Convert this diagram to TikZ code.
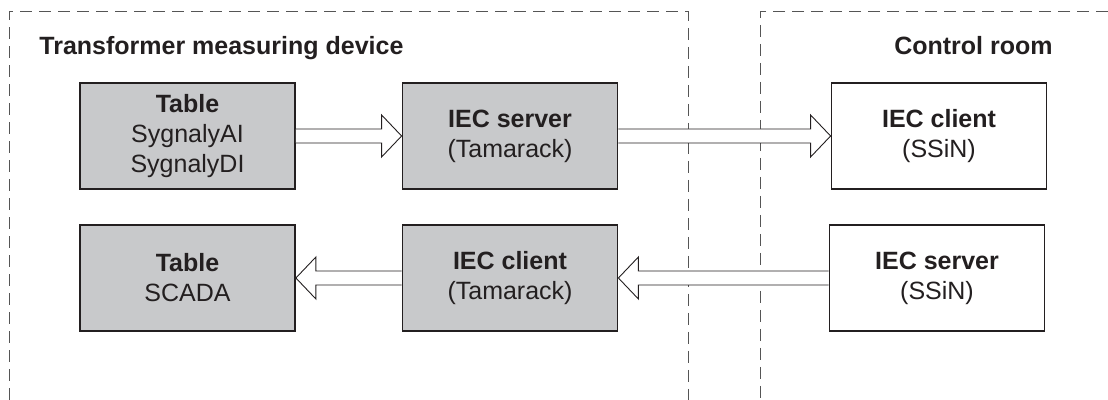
\documentclass[tikz,border=0pt]{standalone}
\usepackage{fontspec}
\setmainfont{Liberation Sans}
\usetikzlibrary{calc}
\definecolor{inkgray}{HTML}{231F20}
\definecolor{boxgray}{HTML}{C8C9CB}
\definecolor{dashgray}{HTML}{555555}
\newcommand{\flowarrow}[2]{%
  \draw[flowarrow] ($(#1)+(0,7)$) -- ($(#2)!10pt!(#1)+(0,7)$) -- ($(#2)!10pt!(#1)+(0,21)$)
    -- (#2) -- ($(#2)!10pt!(#1)+(0,-21)$) -- ($(#2)!10pt!(#1)+(0,-7)$) -- ($(#1)+(0,-7)$);}
\begin{document}
\begin{tikzpicture}[x=0.5pt,y=-0.5pt]
\tikzset{
  unitbox/.style={draw=inkgray,line width=0.9pt,minimum width=107.5pt,minimum height=53pt,
    align=center,text=inkgray,font=\fontsize{12.5}{15}\selectfont,inner sep=0pt},
  devbox/.style={unitbox,fill=boxgray},
  roombox/.style={unitbox,fill=white},
  zone/.style={draw=dashgray,line width=0.5pt,dash pattern=on 6pt off 3.5pt},
  zonetitle/.style={text=inkgray,font=\fontsize{12.5}{15}\selectfont\bfseries,inner sep=0pt},
  flowarrow/.style={draw=inkgray,line width=0.45pt,fill=white,line join=miter}
}
\useasboundingbox (0,0) rectangle (1108,400);
% zones
\draw[zone] (9,400) -- (9,12) -- (688,12) -- (688,400);
\draw[zone] (1108,12) -- (760,12) -- (760,400);
\node[zonetitle,anchor=base west] (t_dev) at (39,55) {Transformer measuring device};
\node[zonetitle,anchor=base east] (t_room) at (1053,55) {Control room};
% upper row
\node[devbox] (n_tab1) at (187.5,136) {{\bfseries Table}\\SygnalyAI\\SygnalyDI};
\node[devbox] (n_srv1) at (510,136) {{\bfseries IEC server}\\(Tamarack)};
\node[roombox] (n_cli2) at (939,136) {{\bfseries IEC client}\\(SSiN)};
% lower row
\node[devbox] (n_tab2) at (187.5,278) {{\bfseries Table}\\SCADA};
\node[devbox] (n_cli1) at (510,278) {{\bfseries IEC client}\\(Tamarack)};
\node[roombox] (n_srv2) at (937,278) {{\bfseries IEC server}\\(SSiN)};
% data flow
\flowarrow{n_tab1.east}{n_srv1.west}
\flowarrow{n_srv1.east}{n_cli2.west}
\flowarrow{n_srv2.west}{n_cli1.east}
\flowarrow{n_cli1.west}{n_tab2.east}
\end{tikzpicture}
\end{document}
